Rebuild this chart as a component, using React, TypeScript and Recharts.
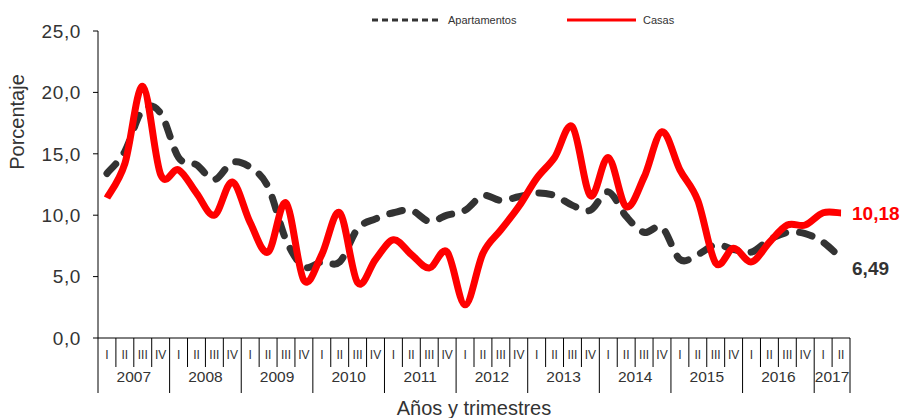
import { LineChart, Line, XAxis, YAxis, Legend } from 'recharts';

const years = ['2007', '2008', '2009', '2010', '2011', '2012', '2013', '2014', '2015', '2016', '2017'];
const quarterNames = ['I', 'II', 'III', 'IV'];

// Apartamentos, 2007 I .. 2017 II
const apartamentos = [
  13.4, 15.2, 18.6, 18.3, 14.7, 14.1, 12.9, 14.3, 13.9, 12.3,
  8.0, 5.8, 6.2, 6.2, 8.9, 9.7, 10.2, 10.4, 9.5, 10.0,
  10.4, 11.6, 11.2, 11.5, 11.8, 11.6, 10.8, 10.4, 11.9, 9.9,
  8.6, 9.0, 6.4, 6.8, 7.6, 7.2, 7.0, 8.0, 8.6, 8.5,
  7.8, 6.49,
];

// Casas, 2007 I .. 2017 II
const casas = [
  11.4, 14.2, 20.5, 13.3, 13.7, 11.8, 10.0, 12.7, 9.4, 7.0,
  11.0, 4.7, 6.8, 10.2, 4.5, 6.4, 8.0, 6.8, 5.7, 7.0,
  2.7, 6.9, 8.8, 10.7, 13.0, 14.7, 17.2, 11.6, 14.7, 10.7,
  13.1, 16.8, 13.7, 11.2, 6.1, 7.3, 6.2, 7.8, 9.2, 9.2,
  10.2, 10.18,
];

const yTicks = [0, 5, 10, 15, 20, 25];

const W = 904;
const H = 418;
const LEFT = 98;
const RIGHT = 54;
const N = casas.length;
const STEP = (W - LEFT - RIGHT) / N;

const data = casas.map((c, i) => ({
  i,
  year: years[Math.floor(i / 4)],
  quarter: quarterNames[i % 4],
  apartamentos: apartamentos[i],
  casas: c,
}));

const fmt = (v: number, d: number) => v.toFixed(d).replace('.', ',');

// smooth curve through the points, like the spreadsheet's smoothed lines
const smoothCurve = (context: any) => {
  let pts: number[][] = [];
  return {
    areaStart() {},
    areaEnd() {},
    lineStart() {
      pts = [];
    },
    point(x: number, y: number) {
      pts.push([+x, +y]);
    },
    lineEnd() {
      if (!pts.length) return;
      context.moveTo(pts[0][0], pts[0][1]);
      const k = 1 / 6;
      for (let j = 0; j < pts.length - 1; j++) {
        const p0 = pts[j - 1] || pts[j];
        const p1 = pts[j];
        const p2 = pts[j + 1];
        const p3 = pts[j + 2] || p2;
        context.bezierCurveTo(
          p1[0] + (p2[0] - p0[0]) * k,
          p1[1] + (p2[1] - p0[1]) * k,
          p2[0] - (p3[0] - p1[0]) * k,
          p2[1] - (p3[1] - p1[1]) * k,
          p2[0],
          p2[1]
        );
      }
    },
  };
};

const QuarterTick = ({ x, y, payload }: any) => {
  const i = payload.value;
  const d = data[i];
  if (!d) return null;
  const left = x - STEP / 2;
  const isYearStart = i % 4 === 0;
  const nq = Math.min(4, N - Math.floor(i / 4) * 4);
  return (
    <g>
      <line x1={left} y1={y} x2={left} y2={y + (isYearStart ? 55 : 29)} stroke="#000" strokeWidth={1} />
      {i === N - 1 && (
        <line x1={x + STEP / 2} y1={y} x2={x + STEP / 2} y2={y + 55} stroke="#000" strokeWidth={1} />
      )}
      <text x={x} y={y + 21} textAnchor="middle" fontSize={12} fill="#333">
        {d.quarter}
      </text>
      {isYearStart && (
        <text x={left + (nq * STEP) / 2} y={y + 44} textAnchor="middle" fontSize={15.5} fill="#333">
          {d.year}
        </text>
      )}
    </g>
  );
};

const EndLabel = (color: string, dy: number) => (props: any) => {
  const { x, y, index, value } = props;
  if (index !== N - 1) return null;
  return (
    <text x={x + 11} y={y + dy} fontSize={19} fontWeight="bold" fill={color}>
      {fmt(value, 2)}
    </text>
  );
};

const LegendBox = () => (
  <div style={{ position: 'relative', height: 0 }}>
    <svg width={W} height={30} style={{ position: 'absolute', left: 0, top: 0 }}>
      <line x1={372} y1={20} x2={440} y2={20} stroke="#333" strokeWidth={3} strokeDasharray="6 4" />
      <text x={448} y={24} fontSize={11} fill="#333">Apartamentos</text>
      <line x1={567} y1={20} x2={636} y2={20} stroke="#ff0000" strokeWidth={3} />
      <text x={643} y={24} fontSize={11} fill="#333">Casas</text>
    </svg>
  </div>
);

export default function App() {
  return (
    <div style={{ position: 'absolute', left: 0, top: 0, fontFamily: '"Liberation Sans", Arial, sans-serif' }}>
      <LineChart width={W} height={H} data={data} margin={{ top: 31, right: RIGHT, left: 0, bottom: 0 }}>
        <XAxis
          dataKey="i"
          type="number"
          domain={[-0.5, N - 0.5]}
          ticks={data.map((d) => d.i)}
          interval={0}
          height={80}
          tickSize={0}
          tickMargin={0}
          tickLine={false}
          axisLine={{ stroke: '#000' }}
          tick={<QuarterTick />}
          label={{ value: 'Años y trimestres', position: 'insideBottom', offset: 3, fontSize: 20, fill: '#333' }}
        />
        <YAxis
          width={LEFT}
          domain={[0, 25]}
          ticks={yTicks}
          interval={0}
          tickSize={5}
          tickMargin={12}
          axisLine={{ stroke: '#000' }}
          tickLine={{ stroke: '#000' }}
          tickFormatter={(v: number) => fmt(v, 1)}
          tick={{ fontSize: 19, fill: '#333', letterSpacing: 0.6 }}
          label={{
            content: () => (
              <text x={17} y={122} transform="rotate(-90 17 122)" textAnchor="middle" dominantBaseline="central" fontSize={20} fill="#333">
                Porcentaje
              </text>
            ),
          }}
        />
        <Legend verticalAlign="top" content={<LegendBox />} wrapperStyle={{ top: 0, left: 0, width: W, height: 0 }} />
        <Line
          dataKey="apartamentos"
          name="Apartamentos"
          type={smoothCurve as any}
          stroke="#333"
          strokeWidth={7}
          strokeDasharray="13 14"
          strokeLinecap="round"
          dot={false}
          activeDot={false}
          isAnimationActive={false}
          label={EndLabel('#333', 17)}
        />
        <Line
          dataKey="casas"
          name="Casas"
          type={smoothCurve as any}
          stroke="#ff0000"
          strokeWidth={7}
          strokeLinejoin="round"
          dot={false}
          activeDot={false}
          isAnimationActive={false}
          label={EndLabel('#ff0000', 7)}
        />
      </LineChart>
    </div>
  );
}
